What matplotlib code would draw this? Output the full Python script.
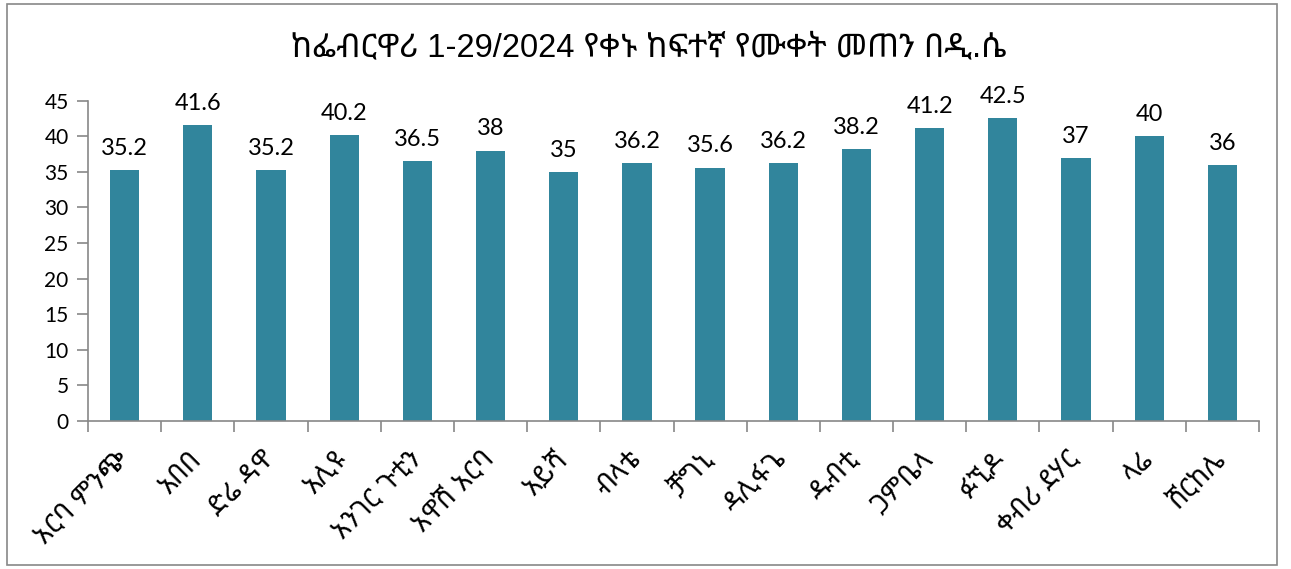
import matplotlib
matplotlib.use("Agg")
import matplotlib.pyplot as plt
from matplotlib import font_manager
from matplotlib.ft2font import FT2Font, FaceFlags
from matplotlib.patches import Rectangle

title = "ከፌብርዋሪ 1-29/2024 የቀኑ ከፍተኛ የሙቀት መጠን በዲ.ሴ"
stations = ["አርባ ምንጭ", "አበበ", "ድሬ ዳዋ", "አሊዩ", "አንገር ጉቲን", "አዋሽ አርባ",
            "አይሻ", "ብላቴ", "ቻግኒ", "ዳሊፋጌ", "ዱብቲ", "ጋምቤላ", "ፉኚዶ",
            "ቀብሪ ደሃር", "ላሬ", "ሸርከሌ"]
max_temp = [35.2, 41.6, 35.2, 40.2, 36.5, 38, 35, 36.2, 35.6, 36.2, 38.2, 41.2,
            42.5, 37, 40, 36]
yticks = [0, 5, 10, 15, 20, 25, 30, 35, 40, 45]

# find installed fonts with Ethiopic glyphs, prefer proportional sans
cands = []
for path in font_manager.findSystemFonts():
    try:
        f = FT2Font(path)
        if 0x12A0 in f.get_charmap() and 0x1230 in f.get_charmap():
            name = font_manager.FontProperties(fname=path).get_name()
            try:
                mono = bool(f.face_flags & FaceFlags.FIXED_WIDTH)
            except Exception:
                mono = False
            mono = mono or ("Mono" in name)
            bold = ("Bold" in path) or ("Italic" in path) or ("Oblique" in path)
            sans = "Sans" in name
            cands.append((mono, bold, not sans, name, path))
    except Exception:
        pass
cands.sort()
eth_family = None
if cands:
    eth_family = cands[0][3]
    font_manager.fontManager.addfont(cands[0][4])

eth_fam = ["Liberation Sans"] + ([eth_family] if eth_family else []) + ["DejaVu Sans"]
plt.rcParams["font.family"] = ["Lato"] + eth_fam

fig = plt.figure(figsize=(12.91, 5.69), dpi=100)
ax = fig.add_axes([88 / 1291, 1 - 421 / 569, (1259 - 88) / 1291, (421 - 100.7) / 569])

x = list(range(len(stations)))
ax.bar(x, max_temp, width=0.40, color="#31859C")
for xi, v in zip(x, max_temp):
    ax.annotate(f"{v:g}", (xi, v), xytext=(0, 8), textcoords="offset points",
                ha="center", va="bottom", fontsize=17, color="black")

ax.set_xlim(-0.5, len(stations) - 0.5)
ax.set_ylim(0, 45)
ax.set_yticks(yticks)
ax.set_yticklabels([str(t) for t in yticks], fontsize=15)
ax.tick_params(axis="y", length=8, width=1.2, color="#888888", pad=6)

ax.set_xticks([i - 0.5 for i in range(len(stations) + 1)], minor=True)
ax.set_xticks(x)
ax.set_xticklabels(stations, rotation=45, ha="right", va="center",
                   rotation_mode="anchor", fontsize=19.5, family=eth_fam)
ax.tick_params(axis="x", which="major", length=0, pad=25)
ax.tick_params(axis="x", which="minor", length=8, width=1.2, color="#888888")

for s in ["top", "right"]:
    ax.spines[s].set_visible(False)
for s in ["left", "bottom"]:
    ax.spines[s].set_color("#888888")
    ax.spines[s].set_linewidth(1.2)

fig.text(649 / 1291, 1 - 48 / 569, title, ha="center", va="center", fontsize=23.5,
         family=eth_fam)

fig.patches.append(Rectangle((7 / 1291, 4 / 569), (1277 - 7) / 1291, (565 - 4) / 569,
                             transform=fig.transFigure, fill=False,
                             edgecolor="#888888", linewidth=1.2))

fig.savefig("out.png", dpi=100)
